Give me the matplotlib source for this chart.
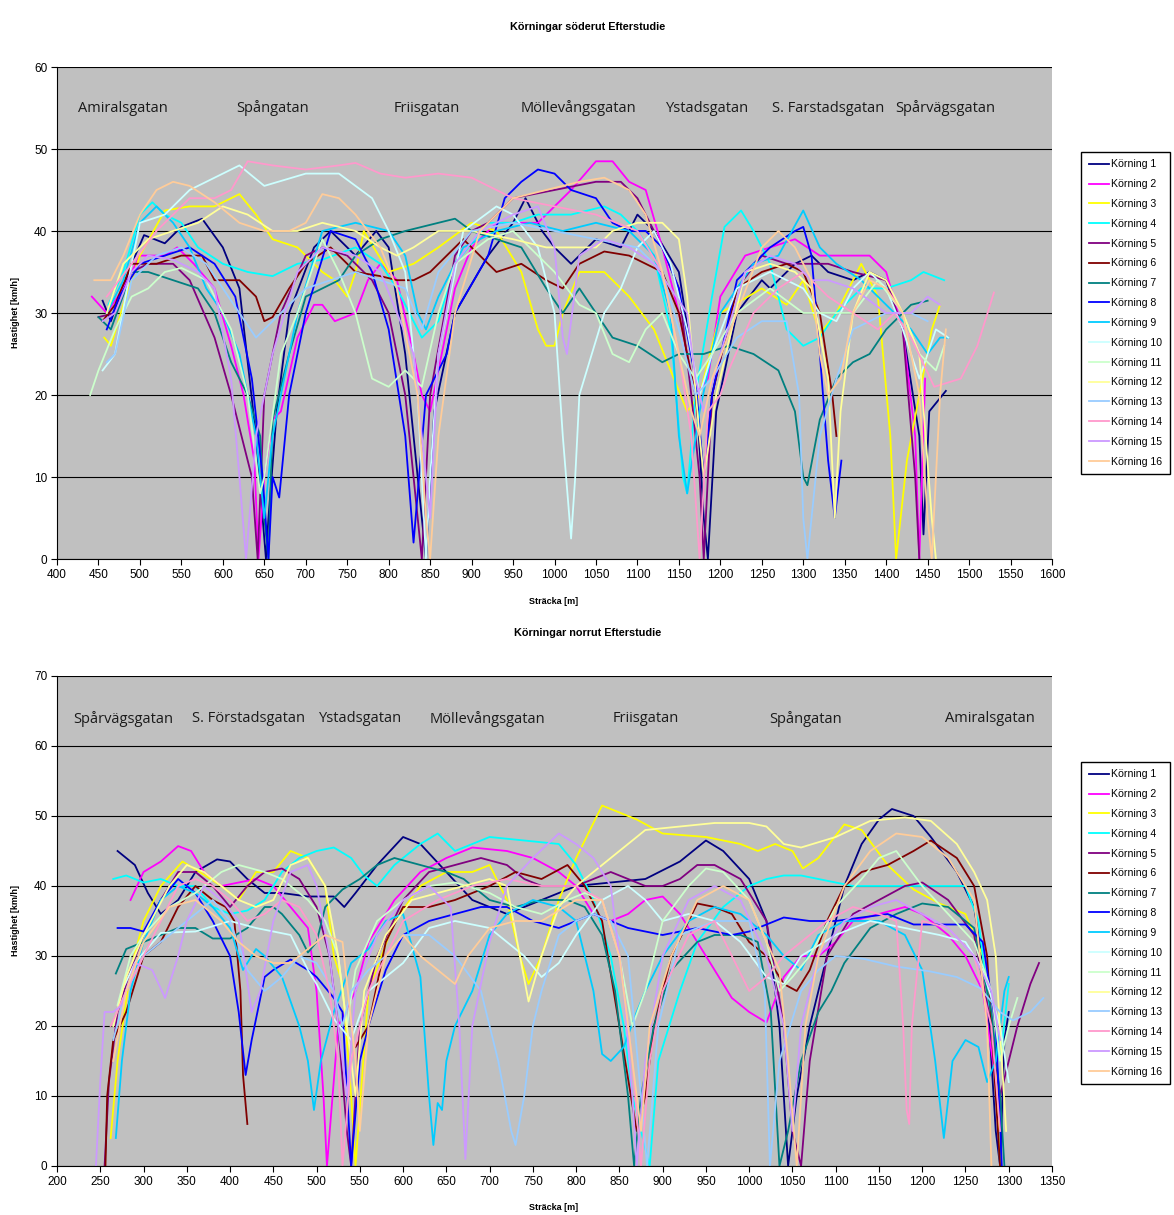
import numpy as np
import matplotlib.pyplot as plt

# ---- data: Körningar söderut (south), (x [m], speed [km/h]) ----
soder_k1 = [(455, 31.5), (465, 29), (490, 36), (505, 39.5), (530, 38.5), (550, 40.5), (575, 41.5), (600, 38), (620, 33), (640, 15), (652, 0), (655, 5), (665, 18), (680, 30), (710, 38), (730, 40), (760, 37), (785, 40), (800, 38), (820, 25), (835, 10), (845, 0), (855, 18), (880, 30), (920, 37), (950, 41), (965, 44), (985, 40), (1000, 38), (1020, 36), (1050, 39), (1080, 38), (1100, 42), (1120, 40), (1150, 35), (1170, 22), (1180, 5), (1185, 0), (1195, 18), (1220, 30), (1250, 34), (1260, 33), (1290, 36), (1310, 37), (1330, 35), (1360, 34), (1380, 35), (1400, 34), (1420, 28), (1440, 15), (1445, 3), (1452, 18), (1460, 19), (1472, 20.5)]
soder_k2 = [(442, 32), (460, 30), (480, 33), (500, 37), (530, 37), (545, 38), (565, 36), (590, 33), (610, 26), (625, 20), (638, 12), (643, 0), (650, 10), (660, 17), (670, 18), (690, 27), (710, 31), (720, 31), (735, 29), (760, 30), (775, 34), (790, 36), (810, 34), (830, 25), (840, 20), (850, 18), (860, 23), (880, 33), (900, 38), (930, 41), (960, 41), (980, 41), (1000, 43), (1020, 45), (1050, 48.5), (1070, 48.5), (1090, 46), (1110, 45), (1130, 38), (1150, 30), (1160, 25), (1170, 20), (1185, 22), (1200, 32), (1230, 37), (1260, 38), (1290, 39), (1320, 37), (1350, 37), (1380, 37), (1400, 35), (1420, 28), (1435, 15), (1440, 0), (1447, 22)]
soder_k3 = [(457, 27), (465, 26), (480, 31), (500, 37), (530, 42.5), (560, 43), (590, 43), (620, 44.5), (640, 42), (660, 39), (690, 38), (720, 35), (735, 34), (750, 32), (760, 35), (770, 40), (800, 35), (830, 36), (860, 38), (900, 41), (930, 40), (960, 35), (980, 28), (990, 26), (1000, 26), (1010, 30), (1030, 35), (1060, 35), (1090, 32), (1120, 28), (1140, 23), (1160, 18), (1175, 20), (1200, 30), (1250, 33), (1280, 31), (1300, 34), (1320, 27.5), (1340, 30), (1370, 36), (1390, 32), (1405, 15), (1412, 0), (1425, 12), (1440, 20), (1455, 28), (1465, 31)]
soder_k4 = [(462, 31), (480, 35), (500, 42), (515, 43.5), (530, 42), (550, 41), (570, 38), (600, 36), (630, 35), (660, 34.5), (690, 36), (720, 36.5), (760, 38), (790, 36), (810, 33), (830, 29), (840, 27), (860, 29), (880, 36), (920, 41), (950, 41), (980, 42), (1020, 42), (1060, 43), (1080, 42), (1100, 40), (1120, 37), (1140, 28), (1155, 10), (1160, 8), (1170, 20), (1190, 32), (1205, 40.5), (1225, 42.5), (1240, 40), (1260, 36), (1280, 28), (1300, 26), (1320, 27), (1340, 30), (1370, 33), (1400, 33), (1430, 34), (1445, 35), (1470, 34)]
soder_k5 = [(450, 29.5), (470, 30), (490, 35), (510, 36), (540, 36), (560, 34), (590, 27), (610, 20), (625, 14), (635, 10), (642, 0), (650, 20), (670, 30), (700, 37), (720, 38), (750, 37), (780, 34), (800, 30), (820, 20), (830, 10), (840, 0), (850, 20), (880, 37), (900, 40), (920, 41), (950, 44), (1000, 45), (1050, 46), (1080, 46), (1100, 44), (1130, 38), (1150, 33), (1165, 20), (1175, 10), (1180, 0), (1190, 20), (1220, 33), (1250, 37), (1280, 36), (1300, 36), (1330, 36), (1360, 35), (1400, 34), (1420, 28), (1435, 10), (1440, 0)]
soder_k6 = [(455, 29), (470, 31), (490, 36), (520, 36), (550, 37), (575, 37), (590, 34), (620, 34), (640, 32), (650, 29), (660, 29.5), (680, 33), (700, 36), (730, 38), (760, 35), (790, 34.5), (810, 34), (830, 34), (850, 35), (870, 37), (890, 39), (910, 37), (930, 35), (960, 36), (990, 34), (1010, 33), (1030, 36), (1060, 37.5), (1090, 37), (1110, 36), (1130, 35), (1150, 30), (1170, 20), (1180, 10), (1190, 20), (1220, 33), (1250, 35), (1280, 36), (1300, 35), (1320, 30), (1335, 20), (1340, 15)]
soder_k7 = [(450, 29.5), (465, 28), (490, 35), (510, 35), (540, 34), (570, 33), (590, 30), (610, 24), (630, 20), (645, 15), (650, 5), (655, 0), (660, 17), (680, 25), (700, 32), (720, 33), (740, 34), (760, 37), (790, 39), (820, 40), (860, 41), (880, 41.5), (900, 40), (930, 39), (960, 38), (990, 33), (1010, 30), (1030, 33), (1050, 30), (1070, 27), (1100, 26), (1130, 24), (1150, 25), (1180, 25), (1210, 26), (1240, 25), (1270, 23), (1290, 18), (1300, 10), (1305, 9), (1320, 17), (1340, 22), (1360, 24), (1380, 25), (1400, 28), (1430, 31), (1450, 31.5)]
soder_k8 = [(460, 28), (475, 32), (500, 36), (530, 37), (560, 38), (590, 36), (615, 32), (635, 22), (648, 10), (655, 0), (660, 10), (668, 7.5), (680, 20), (700, 30), (730, 40), (760, 39), (780, 35), (800, 28), (820, 15), (830, 2), (845, 20), (870, 25), (880, 30), (920, 37), (940, 44), (960, 46), (980, 47.5), (1000, 47), (1020, 45), (1050, 44), (1070, 41), (1090, 40), (1110, 40), (1130, 38), (1150, 33), (1170, 22), (1180, 10), (1190, 20), (1220, 34), (1260, 38), (1290, 40), (1300, 40.5), (1310, 37), (1320, 25), (1330, 12), (1338, 5), (1346, 12)]
soder_k9 = [(460, 30), (480, 34), (500, 41), (520, 43), (540, 41), (560, 38), (580, 33), (600, 30), (620, 25), (640, 15), (650, 5), (660, 15), (690, 30), (720, 40), (760, 41), (800, 40), (820, 37), (835, 30), (845, 28), (860, 32), (890, 38), (930, 40), (970, 41), (1010, 40), (1050, 41), (1090, 40), (1120, 37), (1140, 30), (1150, 15), (1160, 8), (1175, 18), (1200, 30), (1240, 36), (1270, 37), (1300, 42.5), (1320, 38), (1340, 36), (1370, 34), (1400, 31), (1430, 28), (1450, 25), (1465, 27), (1475, 27)]
soder_k10 = [(455, 23), (470, 25), (490, 36), (500, 41), (530, 42), (560, 45), (600, 47), (620, 48), (650, 45.5), (700, 47), (740, 47), (780, 44), (800, 40), (820, 35), (835, 20), (845, 0), (850, 10), (860, 25), (890, 40), (930, 43), (950, 42), (980, 38), (1000, 30), (1010, 15), (1020, 2.5), (1025, 10), (1030, 20), (1060, 30), (1080, 33), (1100, 38), (1120, 40), (1140, 36), (1160, 28), (1175, 20), (1190, 25), (1220, 33), (1260, 35), (1300, 33), (1320, 30), (1340, 29), (1360, 33), (1380, 35), (1400, 33), (1420, 28), (1440, 22), (1460, 28), (1475, 27)]
soder_k11 = [(440, 20), (450, 23), (470, 28), (490, 32), (510, 33), (530, 35), (550, 35.5), (580, 34), (610, 28), (630, 20), (645, 8), (650, 10), (670, 25), (690, 30), (720, 39), (740, 35), (760, 30), (780, 22), (800, 21), (820, 23), (840, 21), (860, 30), (880, 36), (920, 39), (950, 40), (980, 37), (1000, 35), (1030, 31), (1050, 30), (1070, 25), (1090, 24), (1110, 28), (1130, 30), (1150, 25), (1170, 22), (1190, 25), (1220, 30), (1260, 33), (1300, 30), (1330, 30), (1360, 30), (1390, 34), (1420, 30), (1440, 25), (1460, 23), (1470, 26)]
soder_k12 = [(460, 30), (480, 36), (510, 39), (540, 40), (570, 41), (600, 43), (630, 42), (660, 40), (690, 40), (720, 41), (760, 40), (790, 38), (810, 37), (830, 38), (860, 40), (900, 40), (950, 39), (990, 38), (1010, 38), (1050, 38), (1070, 40), (1100, 41), (1130, 41), (1150, 39), (1160, 32), (1175, 15), (1180, 10), (1195, 20), (1230, 35), (1260, 36), (1290, 35), (1310, 33), (1330, 22), (1338, 5), (1345, 18), (1360, 30), (1380, 35), (1400, 34), (1420, 30), (1440, 25), (1455, 5), (1460, 0)]
soder_k13 = [(460, 24), (470, 25), (490, 34), (520, 37), (550, 38), (580, 36), (600, 33), (620, 30), (640, 27), (650, 28), (670, 30), (700, 33), (730, 34), (760, 35), (790, 34), (820, 33), (840, 28), (860, 35), (900, 40), (950, 41), (1000, 40), (1050, 39), (1100, 38), (1130, 35), (1150, 28), (1170, 20), (1190, 22), (1220, 27), (1250, 29), (1280, 29), (1295, 20), (1300, 5), (1305, 0), (1320, 15), (1340, 22), (1360, 28), (1400, 30), (1430, 30), (1450, 29)]
soder_k14 = [(460, 32), (490, 36), (520, 40), (560, 44), (590, 44), (610, 45), (630, 48.5), (660, 48), (700, 47.5), (740, 48), (760, 48.3), (790, 47), (820, 46.5), (860, 47), (900, 46.5), (930, 45), (950, 44), (1000, 43), (1050, 42), (1100, 40), (1130, 35), (1150, 25), (1165, 15), (1175, 0), (1185, 18), (1200, 20), (1210, 23), (1240, 30), (1270, 33), (1300, 35), (1330, 32), (1360, 30), (1390, 28), (1410, 30), (1430, 27), (1458, 21), (1490, 22), (1510, 26), (1530, 32.5)]
soder_k15 = [(455, 29), (470, 30), (490, 35), (510, 37), (540, 36.5), (570, 35), (590, 33), (610, 22), (620, 10), (628, 0), (640, 15), (660, 25), (690, 35), (720, 38), (760, 37), (790, 35), (810, 30), (830, 25), (845, 10), (850, 5), (860, 25), (880, 36), (910, 40), (950, 42), (980, 43), (1000, 38), (1010, 27), (1015, 25), (1030, 37), (1060, 39), (1090, 38), (1120, 36), (1140, 33), (1160, 30), (1170, 22), (1180, 18), (1200, 25), (1230, 35), (1260, 37), (1290, 36), (1310, 34), (1330, 34), (1360, 33), (1400, 30), (1430, 30), (1450, 32), (1465, 31)]
soder_k16 = [(445, 34), (465, 34), (480, 37), (500, 42), (520, 45), (540, 46), (560, 45.5), (590, 43.5), (620, 41), (650, 40), (680, 40), (700, 41), (720, 44.5), (740, 44), (760, 42), (790, 38), (810, 33), (825, 25), (835, 20), (845, 5), (850, 0), (860, 15), (880, 30), (910, 40), (950, 44), (990, 45), (1030, 46), (1060, 46.5), (1090, 45), (1110, 42), (1130, 35), (1150, 25), (1165, 18), (1175, 15), (1190, 22), (1220, 30), (1250, 38), (1270, 40), (1290, 38), (1310, 34), (1320, 25), (1330, 20), (1345, 22), (1360, 30), (1380, 34), (1400, 33), (1420, 30), (1440, 20), (1450, 5), (1455, 0), (1465, 20), (1472, 28)]

# ---- data: Körningar norrut (north) ----
norr_k1 = [(270, 45), (290, 43), (305, 39), (320, 36), (340, 38), (360, 42), (385, 43.8), (400, 43.5), (420, 41), (440, 39), (460, 39), (490, 38.5), (520, 38.5), (532, 37), (545, 39), (570, 43), (600, 47), (620, 46), (650, 42), (680, 38), (720, 36), (760, 38), (800, 40), (840, 40.5), (880, 41), (920, 43.5), (950, 46.5), (970, 45), (1000, 41), (1020, 35), (1035, 20), (1045, 0), (1055, 10), (1070, 20), (1090, 30), (1110, 40), (1130, 46), (1150, 49.5), (1165, 51), (1190, 50), (1210, 47), (1240, 42), (1260, 37), (1275, 25), (1285, 5), (1290, 0), (1295, 18), (1300, 22)]
norr_k2 = [(285, 38), (300, 42), (320, 43.5), (340, 45.7), (355, 45), (370, 42), (390, 40), (410, 40.5), (430, 41), (450, 40), (470, 37), (490, 34), (500, 25), (508, 10), (512, 0), (525, 20), (545, 25), (560, 32), (590, 38), (620, 42), (650, 44), (680, 45.5), (720, 45), (750, 44), (780, 42), (800, 40), (820, 36), (840, 35), (860, 36), (880, 38), (900, 38.5), (920, 36), (940, 32), (960, 28), (980, 24), (1000, 22), (1020, 20.5), (1040, 27), (1060, 30), (1080, 30), (1100, 32), (1120, 35), (1150, 36), (1180, 37), (1200, 36), (1230, 33), (1250, 30), (1270, 25), (1285, 12), (1290, 5)]
norr_k3 = [(262, 4), (270, 15), (285, 28), (300, 35), (320, 40), (345, 43.5), (365, 42), (390, 40), (410, 38), (430, 42), (450, 42), (470, 45), (490, 44), (510, 40), (520, 30), (530, 26), (540, 10), (545, 0), (560, 25), (590, 35), (620, 40), (650, 42), (680, 42), (700, 43), (720, 38), (735, 30), (745, 26), (760, 30), (780, 38), (800, 44), (820, 49), (830, 51.5), (870, 49.5), (900, 47.5), (950, 47), (990, 46), (1010, 45), (1030, 46), (1050, 45), (1062, 42.5), (1080, 44), (1110, 48.8), (1130, 48), (1160, 43), (1190, 39.5), (1220, 37.5), (1250, 36), (1270, 30), (1285, 15), (1290, 0)]
norr_k4 = [(265, 41), (280, 41.5), (300, 40.5), (320, 41), (340, 40), (360, 40), (380, 37), (400, 36), (420, 36.5), (440, 38), (460, 42), (480, 44), (500, 45), (520, 45.5), (540, 44), (555, 41.5), (570, 40), (590, 43), (620, 46), (640, 47.5), (660, 45), (680, 46), (700, 47), (740, 46.5), (780, 46), (800, 43), (820, 38), (840, 30), (855, 20), (865, 10), (875, 5), (885, 0), (895, 15), (920, 25), (940, 32), (970, 37), (1000, 40), (1020, 41), (1040, 41.5), (1060, 41.5), (1080, 41), (1100, 40.5), (1120, 40), (1150, 40), (1190, 40), (1230, 40), (1250, 40), (1265, 35), (1280, 20), (1290, 15), (1300, 26)]
norr_k5 = [(255, 0), (260, 12), (270, 22), (285, 28), (300, 33), (320, 38), (340, 42), (360, 42), (380, 40), (400, 37), (420, 40), (440, 42), (460, 42.5), (480, 41), (500, 37), (515, 30), (525, 20), (535, 5), (540, 0), (550, 20), (570, 30), (600, 38), (630, 42), (660, 43), (690, 44), (720, 43), (740, 41), (760, 40), (780, 40), (800, 40), (820, 41), (840, 42), (860, 41), (880, 40), (900, 40), (920, 41), (940, 43), (960, 43), (990, 41), (1020, 35), (1040, 20), (1050, 5), (1060, 0), (1070, 15), (1090, 30), (1120, 36), (1150, 38), (1180, 40), (1200, 40.5), (1230, 38), (1260, 33), (1280, 20), (1290, 10), (1300, 15), (1310, 20), (1325, 26), (1335, 29)]
norr_k6 = [(256, 0), (258, 10), (265, 18), (280, 22), (300, 30), (320, 32), (340, 37), (360, 40), (380, 38), (395, 37), (405, 35), (412, 25), (415, 13), (420, 6), (np.nan, np.nan), (545, 17), (560, 20), (580, 32), (600, 37), (630, 37), (660, 38), (700, 40), (730, 42), (760, 41), (790, 43), (810, 40), (830, 35), (850, 20), (870, 5), (880, 10), (890, 20), (910, 30), (940, 37.5), (960, 37), (980, 36), (1000, 32), (1020, 30), (1040, 26), (1055, 25), (1070, 28), (1090, 35), (1110, 40), (1130, 42), (1160, 43), (1190, 45), (1210, 46.5), (1240, 44), (1260, 40), (1275, 30), (1285, 10), (1290, 0)]
norr_k7 = [(268, 27.5), (280, 31), (300, 32), (320, 33), (340, 34), (360, 34), (380, 32.5), (400, 32.5), (420, 34), (440, 37), (450, 37), (460, 36), (480, 33), (490, 30.5), (500, 32), (510, 37), (530, 39.5), (550, 41), (570, 43), (590, 44), (620, 43), (650, 42), (670, 41), (700, 38), (730, 37), (760, 38), (790, 38), (810, 37), (830, 33), (845, 25), (860, 10), (867, 0), (875, 10), (890, 20), (910, 28), (940, 32), (960, 33), (990, 33), (1010, 32), (1025, 22), (1035, 0), (1045, 5), (1060, 15), (1080, 22), (1095, 25), (1110, 29), (1140, 34), (1170, 36), (1200, 37.5), (1230, 37), (1260, 34), (1280, 22), (1290, 10), (1295, 0)]
norr_k8 = [(270, 34), (285, 34), (300, 33.5), (320, 38), (340, 41), (360, 39), (380, 35), (400, 30), (410, 22), (418, 13), (425, 18), (440, 27), (450, 28), (470, 29.5), (490, 28), (500, 27), (520, 24), (530, 22), (540, 0), (550, 15), (560, 20), (580, 28), (600, 33), (630, 35), (660, 36), (690, 37), (720, 37), (750, 35), (780, 34), (800, 35), (820, 36), (840, 35), (860, 34), (880, 33.5), (900, 33), (920, 33.5), (940, 34), (960, 33.5), (980, 33), (1000, 33.5), (1020, 34.5), (1040, 35.5), (1070, 35), (1100, 35), (1130, 35.5), (1160, 36), (1190, 34.5), (1220, 34.5), (1250, 34.5), (1270, 32), (1285, 20), (1292, 0)]
norr_k9 = [(268, 4), (275, 15), (285, 25), (300, 32), (320, 38), (340, 40), (360, 39), (380, 37), (400, 34), (415, 28), (430, 31), (440, 30), (460, 27), (480, 20), (490, 15), (497, 8), (505, 15), (520, 22), (540, 29), (560, 31), (580, 35), (600, 36), (620, 27), (630, 10), (635, 3), (640, 9), (645, 8), (650, 15), (660, 20), (680, 25), (700, 33), (720, 36), (750, 38), (780, 37), (800, 35), (820, 25), (830, 16), (840, 15), (855, 17), (870, 22), (880, 25), (900, 30), (930, 35), (960, 37), (990, 36), (1020, 33), (1040, 30), (1060, 28), (1080, 33), (1110, 35), (1150, 35), (1180, 33), (1200, 28), (1215, 15), (1225, 4), (1235, 15), (1250, 18), (1265, 17), (1275, 12), (1285, 15), (1295, 25), (1300, 27)]
norr_k10 = [(275, 25), (290, 29), (320, 33.3), (360, 33.5), (400, 35), (430, 34), (470, 33), (490, 28), (500, 26), (520, 21), (540, 18), (560, 25), (580, 27), (600, 29), (630, 34), (660, 35), (700, 34), (720, 32), (740, 30), (760, 27), (780, 29), (800, 33), (830, 38), (860, 40), (880, 38), (900, 35), (930, 36), (960, 35), (990, 32), (1020, 27), (1040, 26), (1060, 30), (1100, 33), (1140, 35), (1180, 34), (1220, 33), (1250, 32), (1270, 28), (1290, 20), (1300, 12)]
norr_k11 = [(270, 23), (285, 30), (300, 33), (330, 37), (360, 39), (390, 42), (410, 43), (440, 42), (460, 41), (490, 38), (510, 35), (525, 30), (535, 20), (545, 28), (570, 35), (600, 38), (630, 40), (660, 40.5), (700, 39), (730, 37), (760, 36), (790, 38), (810, 39), (830, 38), (850, 30), (865, 20), (880, 25), (900, 35), (930, 40), (950, 42.5), (970, 42), (1000, 38), (1020, 32), (1035, 25), (1050, 27), (1070, 30), (1100, 37), (1130, 41), (1150, 44), (1170, 45), (1200, 40), (1230, 36), (1260, 32), (1280, 25), (1290, 15), (1300, 20), (1310, 24)]
norr_k12 = [(265, 20), (280, 27), (300, 33), (330, 40), (350, 43), (370, 42), (390, 40), (410, 38), (430, 37), (450, 38), (470, 43), (490, 44), (510, 40), (525, 30), (535, 20), (545, 10), (555, 25), (580, 33), (610, 38), (640, 39), (670, 40), (700, 41), (720, 40), (735, 30), (745, 23.5), (760, 30), (780, 37), (800, 40), (820, 42), (850, 45), (880, 48), (920, 48.5), (960, 49), (1000, 49), (1020, 48.5), (1040, 46), (1060, 45.5), (1100, 47), (1140, 49.3), (1180, 49.8), (1210, 49.3), (1240, 46), (1260, 42), (1275, 38), (1285, 30), (1292, 15), (1297, 5)]
norr_k13 = [(265, 18), (280, 25), (300, 30), (330, 33), (360, 36), (380, 38), (400, 35), (420, 28), (440, 25), (460, 27), (480, 30), (500, 29), (520, 25), (530, 20), (540, 25), (560, 28), (580, 30), (600, 33), (630, 33), (660, 30), (690, 25), (710, 15), (725, 5), (730, 3), (740, 10), (750, 20), (760, 25), (780, 33), (800, 35), (820, 36), (840, 35), (860, 30), (875, 10), (882, 0), (895, 20), (920, 33), (960, 35), (1000, 35), (1018, 25), (1024, 0), (1035, 15), (1060, 25), (1080, 28), (1100, 30), (1132, 29.6), (1170, 28.5), (1209, 27.8), (1240, 27), (1267, 25.4), (1290, 22), (1305, 20.8), (1325, 22), (1340, 24)]
norr_k14 = [(262, 20), (280, 25), (300, 30), (320, 35), (340, 40), (360, 41), (380, 40), (400, 38), (420, 35), (440, 36), (460, 38), (480, 37), (500, 33), (515, 25), (525, 15), (530, 0), (540, 15), (560, 25), (600, 35), (640, 38), (680, 40), (720, 41), (760, 40), (800, 40), (830, 38), (850, 30), (865, 15), (875, 0), (885, 15), (900, 25), (930, 33), (960, 35), (980, 30), (1000, 25), (1020, 27), (1040, 30), (1060, 32), (1090, 35), (1120, 37), (1150, 36), (1170, 35), (1178, 20), (1182, 8), (1185, 6), (1188, 20), (1200, 35), (1230, 34), (1260, 30), (1280, 20), (1290, 5)]
norr_k15 = [(245, 0), (250, 12), (255, 22), (265, 22), (275, 23), (290, 29), (310, 28), (325, 24), (340, 30), (350, 35), (370, 40), (390, 38), (410, 35), (425, 22), (435, 25), (450, 35), (470, 42), (490, 43), (500, 40), (515, 30), (525, 20), (535, 10), (545, 25), (570, 33), (600, 38), (630, 40), (655, 37), (665, 20), (672, 1), (680, 20), (700, 32), (720, 40), (750, 44), (780, 47.5), (800, 46), (820, 44), (840, 40), (855, 25), (865, 10), (870, 0), (880, 15), (900, 30), (930, 38), (960, 40), (990, 38), (1020, 30), (1040, 20), (1050, 5), (1060, 20), (1080, 30), (1110, 35), (1140, 37), (1170, 38), (1200, 36), (1230, 34), (1260, 30), (1280, 25), (1290, 18)]
norr_k16 = [(265, 15), (280, 25), (300, 32), (330, 37), (360, 38), (390, 35), (410, 32), (430, 30), (450, 29), (470, 29), (490, 31), (510, 33), (530, 32), (545, 15), (550, 5), (560, 20), (580, 30), (600, 33), (620, 30), (640, 28), (660, 26), (675, 30), (700, 34), (730, 35), (760, 35), (800, 38), (830, 38), (850, 30), (865, 15), (875, 5), (885, 20), (910, 30), (940, 38), (970, 40), (1000, 38), (1020, 32), (1035, 28), (1045, 15), (1055, 0), (1065, 20), (1080, 30), (1110, 40), (1140, 45), (1170, 47.5), (1200, 47), (1230, 44), (1260, 38), (1275, 20), (1280, 0)]

soder = [soder_k1, soder_k2, soder_k3, soder_k4, soder_k5, soder_k6, soder_k7, soder_k8,
         soder_k9, soder_k10, soder_k11, soder_k12, soder_k13, soder_k14, soder_k15, soder_k16]
norr = [norr_k1, norr_k2, norr_k3, norr_k4, norr_k5, norr_k6, norr_k7, norr_k8,
        norr_k9, norr_k10, norr_k11, norr_k12, norr_k13, norr_k14, norr_k15, norr_k16]
labels = [f"Körning {i}" for i in range(1, 17)]

soder_streets = ["Amiralsgatan", "Spångatan", "Friisgatan", "Möllevångsgatan",
                 "Ystadsgatan", "S. Farstadsgatan", "Spårvägsgatan"]
soder_street_x = [480, 660, 846, 1029, 1184, 1330, 1471]
norr_streets = ["Spårvägsgatan", "S. Förstadsgatan", "Ystadsgatan", "Möllevångsgatan",
                "Friisgatan", "Spångatan", "Amiralsgatan"]
norr_street_x = [276, 421, 551, 697, 880, 1065, 1278]

colors = ["#000080", "#FF00FF", "#FFFF00", "#00FFFF", "#800080", "#800000", "#008080", "#0000FF",
          "#00CCFF", "#CCFFFF", "#CCFFCC", "#FFFF99", "#99CCFF", "#FF99CC", "#CC99FF", "#FFCC99"]

W, H = 1174, 1215
fig = plt.figure(figsize=(W / 100, H / 100), dpi=100)
plt.rcParams['font.family'] = ['Liberation Sans', 'DejaVu Sans']


def draw_panel(rect, runs, xlim, xstep, ylim, streets, street_x, street_y, title, title_y, xlabel_y, legend_top):
    ax = fig.add_axes(rect)
    ax.set_facecolor("#C0C0C0")
    lines = []
    for run, c, lab in zip(runs, colors, labels):
        arr = np.array(run, dtype=float)
        ln, = ax.plot(arr[:, 0], arr[:, 1], color=c, lw=1.3, label=lab)
        lines.append(ln)
    ax.set_xlim(*xlim)
    ax.set_ylim(*ylim)
    ax.set_xticks(np.arange(xlim[0], xlim[1] + 1, xstep))
    ax.set_yticks(np.arange(ylim[0], ylim[1] + 1, 10))
    ax.yaxis.grid(True, color="#000000", lw=0.8)
    ax.set_axisbelow(True)
    for s in ["top", "right"]:
        ax.spines[s].set_visible(False)
    for s in ["left", "bottom"]:
        ax.spines[s].set_color("#000000")
        ax.spines[s].set_linewidth(0.8)
    ax.tick_params(direction="out", length=4, width=0.8, labelsize=8.5, pad=3)
    for name, sx in zip(streets, street_x):
        ax.text(sx, street_y, name, ha="center", va="center", fontsize=10.5,
                family=["Open Sans", "DejaVu Sans"], color="#1a1a1a")
    fig.text(588 / W, 1 - title_y / H, title, ha="center", va="center", fontsize=7.8, fontweight="bold")
    fig.text(554 / W, 1 - xlabel_y / H, "Sträcka [m]", ha="center", va="center", fontsize=6.5, fontweight="bold")
    ax.set_ylabel("Hastighet [km/h]", fontsize=6.5, fontweight="bold", labelpad=10)
    fig.legend(lines, labels, loc="upper right", bbox_to_anchor=(1170 / W, 1 - legend_top / H),
               fontsize=7.6, frameon=True, fancybox=False, edgecolor="#000000", framealpha=1,
               handlelength=1.9, handletextpad=0.25, labelspacing=0.93, borderpad=0.7,
               borderaxespad=0)
    return ax


left = 57 / W
width = (1052 - 57) / W
draw_panel([left, 1 - 559 / H, width, (559 - 67) / H], soder, (400, 1600), 50, (0, 60),
           soder_streets, soder_street_x, 55, "Körningar söderut Efterstudie", 27, 601, 152)
draw_panel([left, 1 - 1166 / H, width, (1166 - 676) / H], norr, (200, 1350), 50, (0, 70),
           norr_streets, norr_street_x, 63.9, "Körningar norrut Efterstudie", 633, 1207, 762)

fig.savefig("out.png", dpi=100, facecolor="white")
